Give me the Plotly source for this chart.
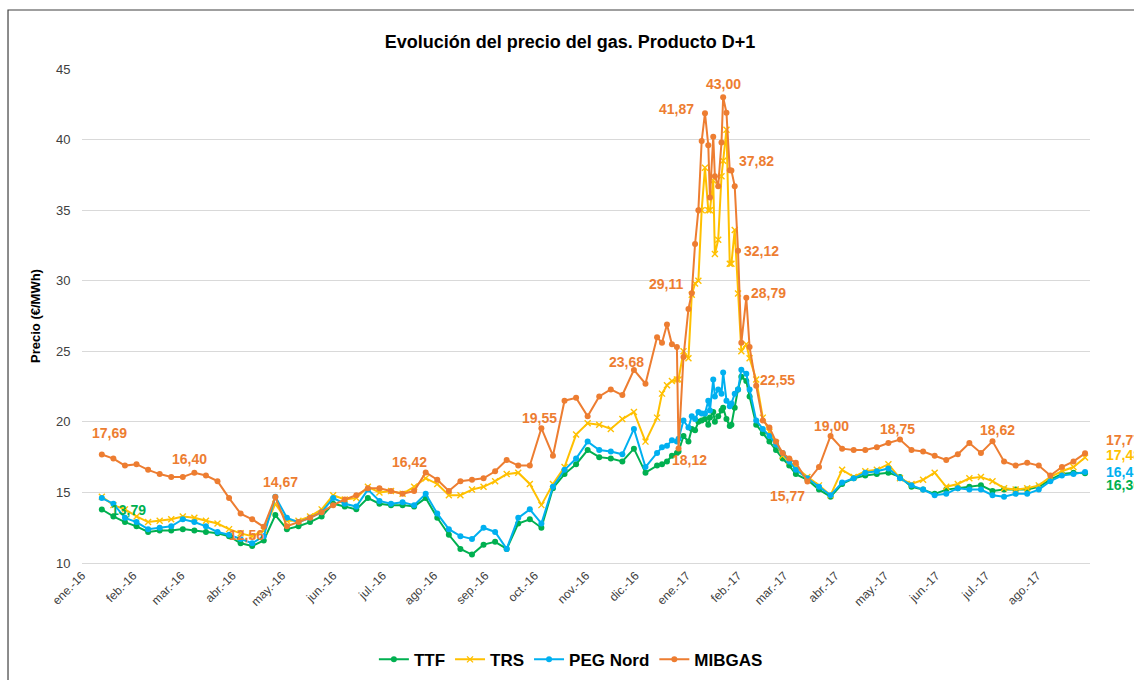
import pandas as pd
import plotly.graph_objects as go

# ---------------- data ----------------
weekly_a = [d.strftime("%Y-%m-%d") for d in pd.date_range("2016-01-13", "2016-12-14", freq="7D")]
dense = ["2016-12-17", "2016-12-20", "2016-12-23", "2016-12-26", "2016-12-27", "2016-12-30",
         "2017-01-02", "2017-01-04", "2017-01-06", "2017-01-08", "2017-01-10", "2017-01-12",
         "2017-01-14", "2017-01-15", "2017-01-17", "2017-01-18", "2017-01-20", "2017-01-22",
         "2017-01-23", "2017-01-25", "2017-01-27", "2017-01-28", "2017-01-30", "2017-02-01",
         "2017-02-03", "2017-02-06", "2017-02-08", "2017-02-12", "2017-02-16", "2017-02-20",
         "2017-02-24", "2017-02-28", "2017-03-04"]
weekly_b = [d.strftime("%Y-%m-%d") for d in pd.date_range("2017-03-08", "2017-08-30", freq="7D")]
dates = weekly_a + dense + weekly_b

mibgas = [17.69, 17.4, 16.9, 17.0, 16.6, 16.3, 16.1, 16.1, 16.40, 16.2, 15.8, 14.6, 13.5, 13.1, 12.56,
          14.67, 12.6, 12.9, 13.2, 13.6, 14.1, 14.5, 14.8, 15.3, 15.3, 15.1, 14.9, 15.1, 16.42, 15.9,
          15.1, 15.8, 15.9, 16.0, 16.5, 17.3, 16.9, 16.9, 19.55, 17.6, 21.5, 21.7, 20.4, 21.8, 22.3,
          21.9, 23.68, 22.7, 26.0,
          25.6, 26.9, 25.5, 25.3, 18.12, 24.6, 28.0, 29.11, 32.6, 35.0, 39.9, 41.87, 39.6, 35.9, 40.2,
          37.4, 36.7, 39.8, 43.00, 41.9, 37.82, 37.8, 36.7, 32.12, 25.6, 28.79, 25.3, 22.55, 20.1,
          19.6, 18.6, 17.8, 17.4,
          17.1, 15.77, 16.8, 19.00, 18.1, 18.0, 18.0, 18.2, 18.5, 18.75, 18.0, 17.9, 17.6, 17.3, 17.7,
          18.5, 17.8, 18.62, 17.2, 16.9, 17.1, 16.9, 16.2, 16.8, 17.2, 17.77]

trs = [14.7, 14.1, 13.8, 13.3, 12.9, 13.0, 13.1, 13.3, 13.2, 13.0, 12.8, 12.4, 12.1, 11.9, 12.3, 14.2,
       13.0, 13.0, 13.3, 13.8, 14.8, 14.5, 14.6, 15.4, 15.0, 15.1, 14.9, 15.4, 16.0, 15.6, 14.8, 14.8,
       15.2, 15.4, 15.8, 16.3, 16.4, 15.6, 14.1, 15.6, 16.8, 19.1, 19.9, 19.8, 19.5, 20.2, 20.7, 18.6,
       20.3,
       22.0, 22.6, 22.9, 23.0, 23.0, 25.0, 24.5, 29.0, 29.8, 30.0, 35.0, 38.0, 35.0, 35.0, 37.1, 31.9,
       32.9, 37.4, 38.5, 40.7, 31.2, 31.2, 33.6, 29.1, 25.0, 25.5, 24.5, 23.0, 20.3, 19.3, 18.5, 17.6,
       17.2,
       16.8, 16.1, 15.5, 14.8, 16.6, 16.1, 16.5, 16.6, 17.0, 16.0, 15.6, 15.9, 16.4, 15.4, 15.6, 16.0,
       16.1, 15.8, 15.3, 15.2, 15.3, 15.5, 16.1, 16.5, 16.8, 17.48]

peg = [14.6, 14.2, 13.2, 12.9, 12.4, 12.5, 12.6, 13.1, 12.9, 12.6, 12.2, 12.0, 11.7, 11.4, 11.9, 14.7,
       13.2, 12.9, 13.2, 13.6, 14.6, 14.2, 14.0, 15.2, 14.4, 14.2, 14.3, 14.1, 14.9, 13.5, 12.4, 11.9,
       11.7, 12.5, 12.2, 11.0, 13.2, 13.8, 12.8, 15.4, 16.6, 17.4, 18.6, 18.0, 17.9, 17.7, 19.5, 16.8,
       17.8,
       18.2, 18.3, 18.7, 18.6, 18.8, 20.1, 19.6, 20.4, 20.2, 20.7, 20.6, 20.6, 21.5, 20.8, 23.0, 21.8,
       22.3, 22.0, 23.5, 21.5, 21.1, 21.3, 22.0, 22.3, 23.7, 23.4, 22.3, 20.1, 19.5, 19.0, 18.4, 17.8,
       17.2,
       16.6, 16.0, 15.4, 14.8, 15.7, 16.0, 16.4, 16.5, 16.7, 16.0, 15.5, 15.2, 14.8, 14.9, 15.3, 15.2,
       15.2, 14.8, 14.7, 14.9, 14.9, 15.2, 15.8, 16.2, 16.3, 16.45]

ttf = [13.79, 13.3, 12.9, 12.6, 12.2, 12.3, 12.3, 12.4, 12.3, 12.2, 12.1, 11.9, 11.4, 11.2, 11.6, 13.4,
       12.4, 12.6, 12.9, 13.3, 14.2, 14.0, 13.8, 14.6, 14.2, 14.1, 14.1, 14.0, 14.6, 13.2, 12.0, 11.0,
       10.6, 11.3, 11.5, 11.0, 12.8, 13.1, 12.5, 15.3, 16.3, 17.0, 18.0, 17.5, 17.4, 17.2, 18.1, 16.4,
       16.9,
       17.0, 17.2, 17.6, 17.8, 17.9, 19.0, 18.6, 19.5, 19.4, 20.0, 20.1, 20.2, 19.8, 20.3, 20.7, 20.0,
       20.4, 20.8, 21.0, 20.2, 19.7, 19.8, 21.0, 22.3, 23.2, 22.9, 21.8, 19.8, 19.2, 18.6, 18.0, 17.4,
       16.9,
       16.3, 15.9, 15.2, 14.7, 15.6, 16.0, 16.2, 16.3, 16.4, 16.1, 15.4, 15.2, 14.9, 15.2, 15.3, 15.4,
       15.5, 15.1, 15.2, 15.2, 15.2, 15.4, 15.9, 16.3, 16.4, 16.36]

month_ticks = [d.strftime("%Y-%m-%d") for d in pd.date_range("2016-01-01", "2017-08-01", freq="MS")]
month_labels = ["ene.-16", "feb.-16", "mar.-16", "abr.-16", "may.-16", "jun.-16", "jul.-16",
                "ago.-16", "sep.-16", "oct.-16", "nov.-16", "dic.-16", "ene.-17", "feb.-17",
                "mar.-17", "abr.-17", "may.-17", "jun.-17", "jul.-17", "ago.-17"]

series_names = ["TTF", "TRS", "PEG Nord", "MIBGAS"]

# ---------------- styles ----------------
C_TTF, C_TRS, C_PEG, C_MIB = "#00B050", "#FFC000", "#00B0F0", "#ED7D31"
FONT = "Liberation Sans, Arial, sans-serif"

fig = go.Figure()
fig.add_trace(go.Scatter(x=dates, y=ttf, name=series_names[0], mode="lines+markers",
                         line=dict(color=C_TTF, width=2),
                         marker=dict(symbol="circle", size=6, color=C_TTF)))
fig.add_trace(go.Scatter(x=dates, y=trs, name=series_names[1], mode="lines+markers",
                         line=dict(color=C_TRS, width=2),
                         marker=dict(symbol="x-thin", size=6, color=C_TRS,
                                     line=dict(color=C_TRS, width=1.4))))
fig.add_trace(go.Scatter(x=dates, y=peg, name=series_names[2], mode="lines+markers",
                         line=dict(color=C_PEG, width=2),
                         marker=dict(symbol="circle", size=6, color=C_PEG)))
fig.add_trace(go.Scatter(x=dates, y=mibgas, name=series_names[3], mode="lines+markers",
                         line=dict(color=C_MIB, width=2),
                         marker=dict(symbol="circle", size=6, color=C_MIB)))

# data labels: (series values, colour, date, xshift, yshift, xanchor)
label_specs = [
    (mibgas, C_MIB, "2016-01-13", 8, 21, "center"),
    (mibgas, C_MIB, "2016-03-09", -5, 14, "center"),
    (mibgas, C_MIB, "2016-04-20", -17, -8, "center"),
    (mibgas, C_MIB, "2016-04-27", 5, 15, "center"),
    (mibgas, C_MIB, "2016-07-27", -16, 10, "center"),
    (mibgas, C_MIB, "2016-10-05", -2, 10, "center"),
    (mibgas, C_MIB, "2016-11-30", -7, 8, "center"),
    (mibgas, C_MIB, "2016-12-27", 11, -12, "center"),
    (mibgas, C_MIB, "2017-01-04", -26, 9, "center"),
    (mibgas, C_MIB, "2017-01-12", -28, 4, "center"),
    (mibgas, C_MIB, "2017-01-23", 0, 13, "center"),
    (mibgas, C_MIB, "2017-01-27", 27, 9, "center"),
    (mibgas, C_MIB, "2017-02-01", 23, 0, "center"),
    (mibgas, C_MIB, "2017-02-06", 22, 5, "center"),
    (mibgas, C_MIB, "2017-02-12", 21, 6, "center"),
    (mibgas, C_MIB, "2017-03-15", -20, -14, "center"),
    (mibgas, C_MIB, "2017-03-29", 1, 10, "center"),
    (mibgas, C_MIB, "2017-05-10", -2, 11, "center"),
    (mibgas, C_MIB, "2017-07-05", 5, 11, "center"),
    (mibgas, C_MIB, "2017-08-30", 19, 13, "left"),
    (trs, C_TRS, "2017-08-30", 19, 2, "left"),
    (peg, C_PEG, "2017-08-30", 19, 0, "left"),
    (ttf, C_TTF, "2017-08-30", 19, -12, "left"),
    (ttf, C_TTF, "2016-01-13", 27, 0, "center"),
]
for vals, col, d, xs, ys, xa in label_specs:
    i = dates.index(d)
    v = vals[i]
    fig.add_annotation(x=d, y=v, text="<b>" + f"{v:.2f}".replace(".", ",") + "</b>",
                       showarrow=False, xshift=xs, yshift=ys, xanchor=xa, yanchor="middle",
                       font=dict(family=FONT, size=14, color=col))

fig.update_layout(
    width=1134, height=680,
    margin=dict(l=82, r=44, t=69, b=117, autoexpand=False),
    paper_bgcolor="white", plot_bgcolor="white",
    font=dict(family=FONT, color="#404040"),
    title=dict(text="<b>Evolución del precio del gas. Producto D+1</b>",
               x=570 / 1134, xref="container", xanchor="center",
               y=1 - 42 / 680, yref="container", yanchor="middle",
               font=dict(family=FONT, size=18, color="#000000")),
    showlegend=True,
    legend=dict(orientation="h", x=0.485, xanchor="center", y=-0.196, yanchor="middle",
                font=dict(family=FONT, size=17, color="#000000", weight="bold"),
                itemwidth=30, traceorder="normal"),
    shapes=[dict(type="rect", xref="paper", yref="paper", x0=-0.0734, x1=1.06,
                 y0=-0.3, y1=1.1194, line=dict(color="#404040", width=1.2), layer="below")],
)
fig.update_xaxes(type="date", range=["2016-01-01", "2017-09-02"], automargin=False,
                 tickmode="array", tickvals=month_ticks, ticktext=month_labels,
                 tickangle=-45, tickfont=dict(family=FONT, size=12, color="#404040"),
                 showgrid=False, zeroline=False, showline=True, linecolor="#D9D9D9", linewidth=1,
                 ticks="")
fig.update_yaxes(range=[10, 45], dtick=5, tick0=10, showgrid=True, gridcolor="#D9D9D9", gridwidth=1,
                 zeroline=False, showline=False, automargin=False,
                 ticks="outside", ticklen=8, tickcolor="rgba(0,0,0,0)",
                 tickfont=dict(family=FONT, size=13, color="#404040"),
                 title=dict(text="<b>Precio (€/MWh)</b>", standoff=12,
                            font=dict(family=FONT, size=13, color="#000000")))

# remove the default page margin so the 1134x680 figure fills the window exactly
fig.write_html("out.html", config={"displayModeBar": False},
               post_script="document.body.style.margin='0';document.body.style.overflow='hidden';")
